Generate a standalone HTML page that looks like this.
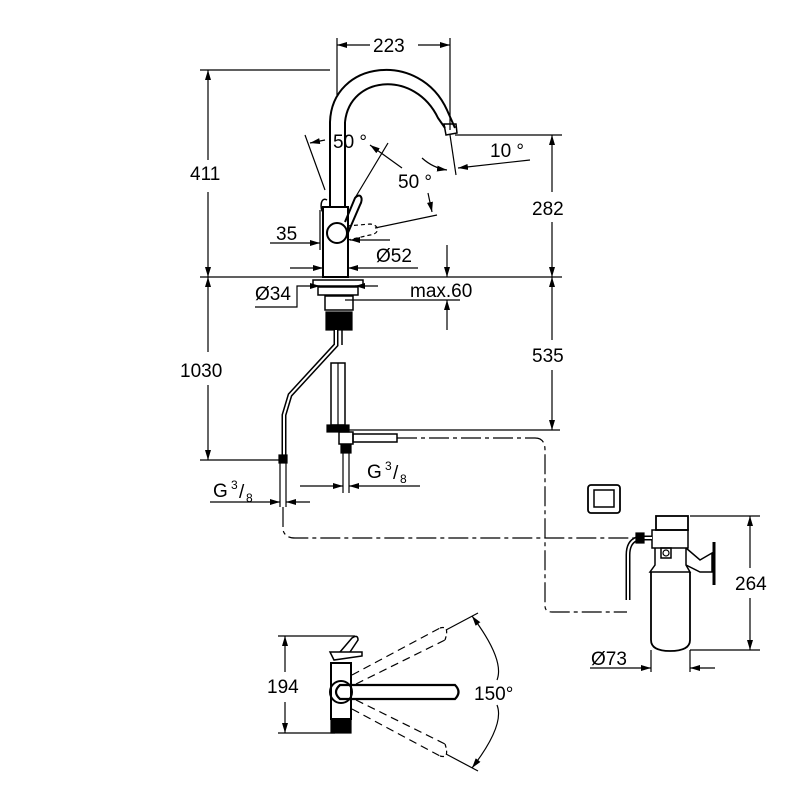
<!DOCTYPE html>
<html><head><meta charset="utf-8"><style>
body{margin:0;background:#fff}
svg{display:block}
text{font-family:"Liberation Sans",sans-serif;font-size:19px;fill:#000}
</style></head><body>
<svg width="800" height="800" viewBox="0 0 800 800" xmlns="http://www.w3.org/2000/svg">
<defs>
<marker id="a" viewBox="0 0 10 6" refX="10" refY="3" markerWidth="10" markerHeight="6" orient="auto-start-reverse" markerUnits="userSpaceOnUse"><path d="M0,0L10,3L0,6z" fill="#000"/></marker>
</defs>
<g stroke="#000" stroke-width="1.2" fill="none">
<line x1="337" y1="38" x2="337" y2="95"/><line x1="450" y1="38" x2="450" y2="130"/>
<line x1="337" y1="45" x2="370" y2="45" marker-start="url(#a)"/><line x1="418" y1="45" x2="450" y2="45" marker-end="url(#a)"/>
<line x1="200" y1="70" x2="330" y2="70"/>
<line x1="208" y1="70" x2="208" y2="160" marker-start="url(#a)"/><line x1="208" y1="192" x2="208" y2="277" marker-end="url(#a)"/>
<line x1="200" y1="277" x2="562" y2="277"/>
<line x1="455" y1="135" x2="562" y2="135"/>
<line x1="552" y1="135" x2="552" y2="192" marker-start="url(#a)"/><line x1="552" y1="222" x2="552" y2="277" marker-end="url(#a)"/>
<line x1="208" y1="277" x2="208" y2="352" marker-start="url(#a)"/><line x1="208" y1="385" x2="208" y2="460" marker-end="url(#a)"/>
<line x1="200" y1="460" x2="285" y2="460"/>
<line x1="552" y1="277" x2="552" y2="340" marker-start="url(#a)"/><line x1="552" y1="370" x2="552" y2="430" marker-end="url(#a)"/>
<line x1="345" y1="430" x2="560" y2="430"/>
<path d="M330,122 C332,60 420,50 447,110 L455,128" stroke-width="2"/>
<path d="M345,122 C350,75 415,70 438,118 L445,128" stroke-width="2"/>
<path d="M444,124 L456,124 L457,133 L446,135 Z" stroke-width="1.5"/>
<line x1="450" y1="135" x2="456" y2="175"/>
<line x1="330" y1="122" x2="330" y2="207" stroke-width="2"/><line x1="345" y1="122" x2="345" y2="207" stroke-width="2"/>
<rect x="323" y="207" width="25" height="70" stroke-width="2"/>
<circle cx="337" cy="233" r="10" stroke-width="2"/>
<path d="M345,222 L355,198 C360,192 364,198 360,205 L347,235" stroke-width="2"/>
<path d="M327,200 C320,196 320,210 323,212" stroke-width="1.5"/>
<path d="M347,226 L370,224 C380,225 380,234 370,235 L348,240" stroke-dasharray="4,3"/>
<line x1="375" y1="228" x2="437" y2="215"/>
<line x1="305" y1="135" x2="325" y2="190"/><line x1="388" y1="143" x2="355" y2="198"/>
<line x1="310" y1="143" x2="325" y2="140" marker-start="url(#a)"/>
<line x1="370" y1="145" x2="402" y2="168" marker-start="url(#a)"/>
<line x1="428" y1="193" x2="432" y2="212" marker-end="url(#a)"/>
<path d="M422,158 Q433,168 447,170" marker-end="url(#a)"/>
<line x1="530" y1="160" x2="458" y2="168" marker-end="url(#a)"/>
<line x1="320" y1="210" x2="320" y2="250"/>
<line x1="270" y1="243" x2="320" y2="243" marker-end="url(#a)"/>
<line x1="390" y1="240" x2="350" y2="240" marker-end="url(#a)"/>
<line x1="290" y1="268" x2="323" y2="268" marker-end="url(#a)"/>
<line x1="418" y1="268" x2="348" y2="268" marker-end="url(#a)"/>
<line x1="447" y1="245" x2="447" y2="277" marker-end="url(#a)"/>
<line x1="447" y1="330" x2="447" y2="300" marker-end="url(#a)"/>
<line x1="345" y1="300" x2="460" y2="300"/>
<path d="M255,307 L297,307 L297,286 L320,286" marker-end="url(#a)"/>
<line x1="378" y1="286" x2="355" y2="286" marker-end="url(#a)"/>
<rect x="313" y="280" width="50" height="6" stroke-width="1.5"/>
<rect x="318" y="287" width="40" height="8" stroke-width="1.5"/>
<rect x="325" y="296" width="28" height="14" stroke-width="1.5"/>
<rect x="326" y="312" width="26" height="18" fill="#000"/>
<path d="M336,330 L336,345 L290,395 L284,415 L284,460" stroke-width="5"/>
<path d="M336,330 L336,345 L290,395 L284,415 L284,460" stroke="#fff" stroke-width="2"/>
<path d="M342,330 L342,345" stroke-width="1.5"/>
<rect x="331" y="363" width="14" height="62" stroke-width="1.5"/>
<line x1="338" y1="363" x2="338" y2="425"/>
<rect x="327" y="425" width="22" height="7" fill="#000"/>
<rect x="339" y="432" width="14" height="12" stroke-width="1.5"/>
<rect x="341" y="445" width="10" height="8" fill="#000"/>
<line x1="343" y1="453" x2="343" y2="493"/><line x1="349" y1="453" x2="349" y2="493"/>
<rect x="353" y="434" width="44" height="8" stroke-width="1.5"/>
<rect x="279" y="455" width="8" height="8" fill="#000"/>
<line x1="280" y1="463" x2="280" y2="507"/><line x1="286" y1="463" x2="286" y2="507"/>
<line x1="300" y1="486" x2="343" y2="486" marker-end="url(#a)"/>
<line x1="420" y1="486" x2="349" y2="486" marker-end="url(#a)"/>
<line x1="210" y1="502" x2="280" y2="502" marker-end="url(#a)"/>
<line x1="310" y1="502" x2="286" y2="502" marker-end="url(#a)"/>
<path d="M397,438 L535,438 Q545,438 545,450 L545,606 Q545,612 552,612 L627,612" stroke-dasharray="20,4,4,4"/>
<path d="M283,507 L283,530 Q285,538 295,538 L645,538" stroke-dasharray="20,4,4,4"/>
<rect x="588" y="485" width="32" height="28" rx="3" stroke-width="1.8"/>
<rect x="594" y="490" width="20" height="17" stroke-width="1.5"/>
<!-- filter -->
<rect x="656" y="516" width="32" height="14" stroke-width="1.8"/>
<path d="M652,530 L688,530 L688,548 L652,548 Z" stroke-width="1.5"/>
<path d="M655,548 L655,565 L650,572 L690,572 L686,565 L686,548" stroke-width="1.5"/>
<path d="M651,572 L651,640 Q651,651 670,651 Q690,651 690,640 L690,572" stroke-width="1.8"/>
<path d="M686,548 L700,560 L712,553 L712,572 L700,572 L686,565" stroke-width="1.5"/>
<line x1="714" y1="542" x2="714" y2="585" stroke-width="3"/>
<rect x="661" y="548" width="10" height="10" stroke-width="1.5"/>
<circle cx="666" cy="553" r="3" stroke-width="1.2"/>
<path d="M652,538 L640,538 Q628,540 628,555 L628,600" stroke-width="5"/>
<path d="M652,538 L640,538 Q628,540 628,555 L628,600" stroke="#fff" stroke-width="2"/>
<rect x="636" y="533" width="8" height="10" fill="#000"/>
<line x1="690" y1="516" x2="760" y2="516"/><line x1="690" y1="650" x2="760" y2="650"/>
<line x1="750" y1="516" x2="750" y2="568" marker-start="url(#a)"/><line x1="750" y1="598" x2="750" y2="650" marker-end="url(#a)"/>
<line x1="651" y1="650" x2="651" y2="672"/><line x1="690" y1="650" x2="690" y2="672"/>
<line x1="590" y1="668" x2="651" y2="668" marker-end="url(#a)"/>
<line x1="715" y1="668" x2="690" y2="668" marker-end="url(#a)"/>
<line x1="278" y1="636" x2="355" y2="636"/><line x1="278" y1="733" x2="335" y2="733"/>
<line x1="285" y1="636" x2="285" y2="672" marker-start="url(#a)"/><line x1="285" y1="702" x2="285" y2="733" marker-end="url(#a)"/>
<rect x="331" y="663" width="20" height="56" stroke-width="2"/>
<rect x="331" y="719" width="20" height="14" fill="#000"/>
<path d="M330,652 L362,652 L362,656 L334,660 Z" stroke-width="1.5"/>
<path d="M340,652 L352,638 Q358,634 358,640 L350,652" stroke-width="1.5"/>
<path d="M340,685 L455,685 Q462,692 455,699 L340,699 Q332,692 340,685 Z" stroke-width="2.2"/>
<circle cx="341" cy="692" r="11" stroke-width="2"/>
<path d="M352,675 L440,628 M356,684 L445,640" stroke-dasharray="8,5"/>
<path d="M440,628 Q450,625 445,640" stroke-dasharray="4,3"/>
<line x1="446" y1="630" x2="478" y2="613"/>
<path d="M352,709 L440,756 M356,700 L445,744" stroke-dasharray="8,5"/>
<path d="M440,756 Q450,759 445,744" stroke-dasharray="4,3"/>
<line x1="446" y1="754" x2="478" y2="771"/>
<path d="M472,616 Q505,660 497,680" marker-start="url(#a)"/>
<path d="M497,705 Q505,725 472,768" marker-end="url(#a)"/>
</g>
<g>
<text x="373" y="52">223</text>
<text x="190" y="180">411</text>
<text x="532" y="215">282</text>
<text x="180" y="377">1030</text>
<text x="532" y="362">535</text>
<text x="333" y="148">50 °</text>
<text x="398" y="188">50 °</text>
<text x="490" y="157">10 °</text>
<text x="276" y="240">35</text>
<text x="376" y="262">Ø52</text>
<text x="255" y="300">Ø34</text>
<text x="410" y="297">max.60</text>
<text x="367" y="478">G</text><text x="385" y="470" style="font-size:12px">3</text><text x="393" y="479">/</text><text x="400" y="483" style="font-size:12px">8</text>
<text x="213" y="497">G</text><text x="231" y="489" style="font-size:12px">3</text><text x="239" y="498">/</text><text x="246" y="502" style="font-size:12px">8</text>
<text x="735" y="590">264</text>
<text x="591" y="665">Ø73</text>
<text x="267" y="693">194</text>
<text x="474" y="700">150°</text>
</g>
</svg>
</body></html>
